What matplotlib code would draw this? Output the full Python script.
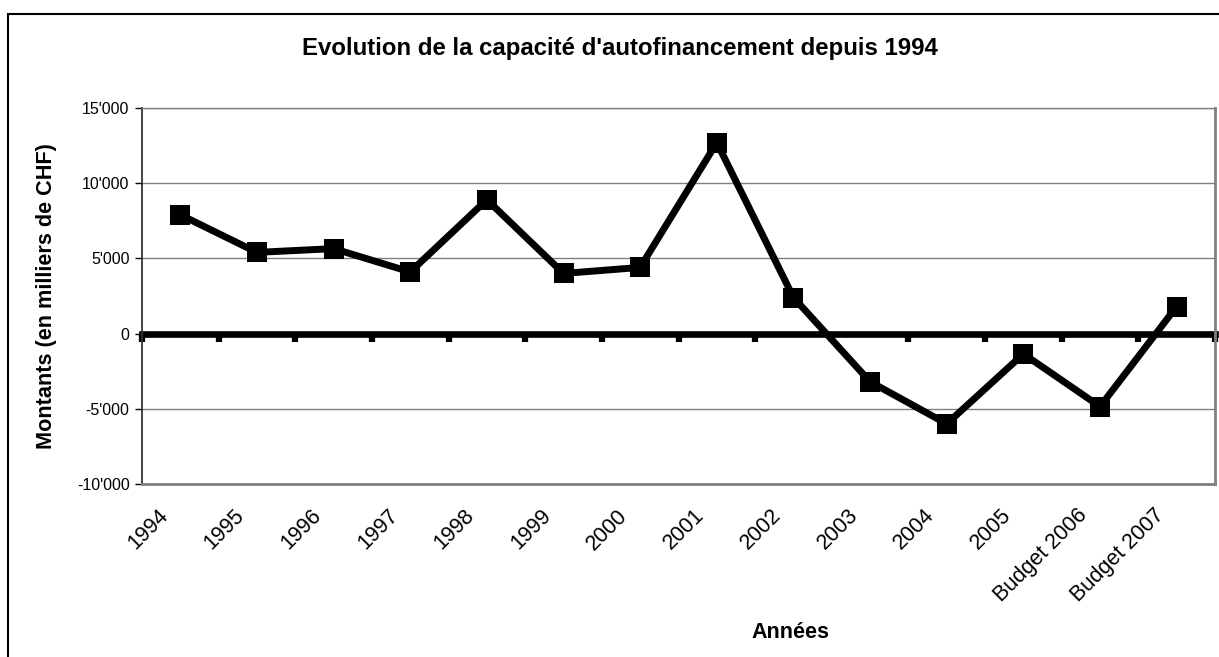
import matplotlib
matplotlib.use("Agg")
import matplotlib.pyplot as plt
from matplotlib.patches import Rectangle
from matplotlib.ticker import FuncFormatter
from matplotlib.transforms import ScaledTranslation, blended_transform_factory
import numpy as np

categories = ["1994", "1995", "1996", "1997", "1998", "1999", "2000", "2001",
              "2002", "2003", "2004", "2005", "Budget 2006", "Budget 2007"]
values = [7900, 5400, 5650, 4100, 8900, 4000, 4400, 12700,
          2400, -3200, -6000, -1350, -4850, 1800]
yticks = [-10000, -5000, 0, 5000, 10000, 15000]

plt.rcParams['font.family'] = ['Liberation Sans', 'DejaVu Sans']

W, H = 1219, 657
fig = plt.figure(figsize=(W / 100, H / 100), dpi=100)
fig.patch.set_facecolor('white')

# outer frame (cropped on right/bottom)
fig.patches.append(Rectangle((8 / W, -0.1), 1.2, 1 - 14 / H + 0.1,
                             transform=fig.transFigure, fill=False,
                             edgecolor='black', lw=1.5))

L, R, T, B = 142, 1215, 108, 484
ax = fig.add_axes([L / W, 1 - B / H, (R - L) / W, (B - T) / H])

n = len(categories)
x = np.arange(n)
ax.set_xlim(-0.5, n - 0.5)
ax.set_ylim(yticks[0], yticks[-1])

for yv in yticks:
    if yv != 0:
        ax.axhline(yv, color='#808080', lw=1.0, zorder=1)

ax.plot(x, values, color='black', lw=5, marker='s', markersize=15,
        markeredgewidth=0, zorder=4, solid_joinstyle='miter')

# zero axis with tick stubs
loc0 = (0 - yticks[0]) / (yticks[-1] - yticks[0])
sec = ax.secondary_xaxis(loc0)
sec.spines['bottom'].set_linewidth(4.8)
sec.spines['bottom'].set_color('black')
sec.set_xticks(np.arange(n + 1) - 0.5)
sec.tick_params(axis='x', length=6, width=4.5, color='black', labelbottom=False,
                direction='out')

ax.set_yticks(yticks)
ax.yaxis.set_major_formatter(FuncFormatter(lambda v, p: f"{int(v):,}".replace(',', "'")))
ax.tick_params(axis='y', length=5, width=1, labelsize=11.5, pad=4, color='black')

ax.set_xticks(x)
ax.set_xticklabels([])
ax.tick_params(axis='x', length=0)
lab_tr = blended_transform_factory(ax.transData, ax.transAxes) + \
    ScaledTranslation(-23 / 100, -21 / 100, fig.dpi_scale_trans)
for xi, cat in zip(x, categories):
    ax.text(xi, 0, cat, transform=lab_tr, rotation=45, ha='right', va='top',
            rotation_mode='anchor', fontsize=15.5, clip_on=False)

for s in ['top', 'right', 'bottom']:
    ax.spines[s].set_color('#808080')
    ax.spines[s].set_linewidth(2)
ax.spines['top'].set_linewidth(1)
ax.spines['left'].set_color('#333333')
ax.spines['left'].set_linewidth(1.3)

fig.text(620 / W, 1 - 48 / H, "Evolution de la capacité d'autofinancement depuis 1994",
         ha='center', va='center', fontsize=17.3, fontweight='bold')
fig.text(47 / W, 1 - 296 / H, "Montants (en milliers de CHF)", rotation=90,
         ha='center', va='center', fontsize=15.6, fontweight='bold')
fig.text(790 / W, 1 - 633 / H, "Années", ha='center', va='center',
         fontsize=15.5, fontweight='bold')

fig.savefig("out.png", dpi=100)
